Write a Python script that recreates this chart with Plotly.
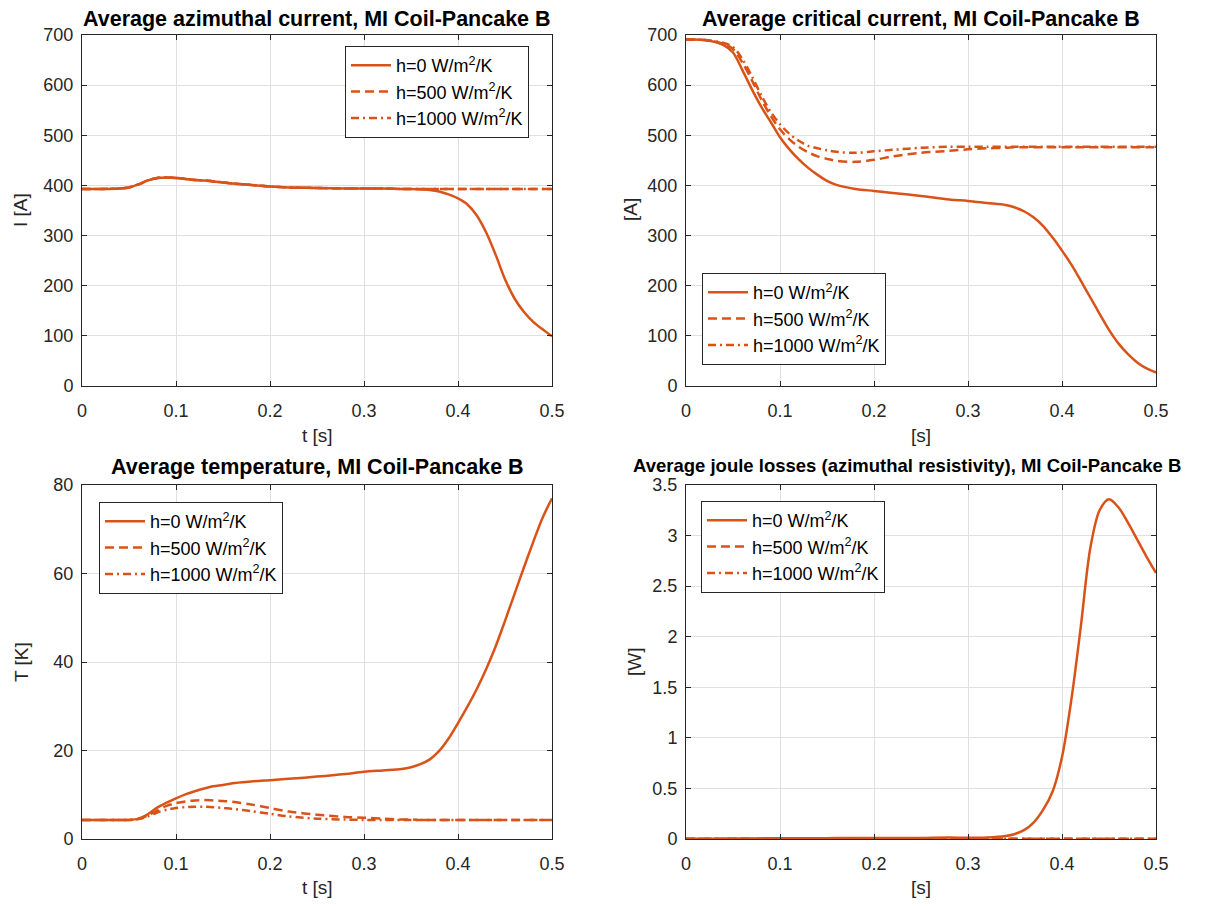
import plotly.graph_objects as go

# ---------------- data ----------------
t = [0, 0.02, 0.04, 0.05, 0.06, 0.07, 0.08, 0.09, 0.10, 0.11, 0.12, 0.13, 0.14, 0.15,
     0.16, 0.18, 0.20, 0.22, 0.25, 0.28, 0.30, 0.32, 0.34, 0.35, 0.36, 0.37, 0.38, 0.39,
     0.40, 0.41, 0.42, 0.43, 0.44, 0.45, 0.46, 0.47, 0.48, 0.49, 0.50]

series_names = ["h=0 W/m<sup>2</sup>/K", "h=500 W/m<sup>2</sup>/K", "h=1000 W/m<sup>2</sup>/K"]

# Average azimuthal current [A]
I_h0 = [393, 393, 394, 396, 402, 410, 415, 416, 415, 413, 411, 410, 408, 406,
        404, 401, 398, 396, 395, 394, 394, 394, 393, 393, 392, 391, 388, 382,
        374, 362, 340, 306, 262, 213, 175, 148, 128, 113, 99]
I_h500 = [393, 393, 394, 396, 402, 410, 415, 416, 415, 413, 411, 410, 408, 406,
          404, 401, 398, 396, 395, 394, 394, 394, 393, 393, 393, 393, 393, 393,
          393, 393, 393, 393, 393, 393, 393, 393, 393, 393, 393]
I_h1000 = [393, 393, 394, 396, 402, 410, 415, 416, 415, 413, 411, 410, 408, 406,
           404, 401, 398, 396, 395, 394, 394, 394, 393, 393, 393, 393, 393, 393,
           393, 393, 393, 393, 393, 393, 393, 393, 393, 393, 393]

# Average critical current [A]
Ic_h0 = [691, 690, 680, 665, 630, 592, 557, 527, 496, 472, 452, 435, 421, 409,
         401, 393, 389, 385, 379, 372, 369, 365, 361, 356, 348, 336, 319, 296,
         270, 242, 210, 177, 144, 112, 85, 64, 47, 35, 27]
Ic_h500 = [691, 690, 682, 672, 645, 610, 572, 539, 512, 492, 477, 466, 458, 453,
           449, 447, 451, 458, 465, 469, 472, 474, 475, 476, 476, 476, 476, 476,
           476, 476, 476, 476, 476, 476, 476, 476, 476, 476, 476]
Ic_h1000 = [691, 690, 684, 676, 652, 618, 580, 547, 522, 503, 489, 479, 474, 470,
            467, 465, 468, 471, 475, 477, 477, 477, 477, 477, 477, 477, 477, 477,
            477, 477, 477, 477, 477, 477, 477, 477, 477, 477, 477]

# Average temperature [K]
T_h0 = [4.3, 4.3, 4.3, 4.3, 4.6, 5.6, 7.1, 8.2, 9.2, 10.1, 10.8, 11.4, 11.9, 12.2,
        12.6, 13.0, 13.3, 13.6, 14.1, 14.7, 15.2, 15.5, 15.8, 16.2, 16.9, 18.0, 19.9, 22.7,
        26.2, 29.9, 33.9, 38.4, 43.5, 49.3, 55.3, 61.3, 67.1, 72.6, 77.0]
T_h500 = [4.3, 4.3, 4.3, 4.3, 4.5, 5.3, 6.4, 7.5, 8.1, 8.5, 8.7, 8.8, 8.7, 8.6,
          8.4, 7.8, 7.0, 6.2, 5.5, 5.0, 4.8, 4.6, 4.4, 4.4, 4.3, 4.3, 4.3, 4.3,
          4.3, 4.3, 4.3, 4.3, 4.3, 4.3, 4.3, 4.3, 4.3, 4.3, 4.3]
T_h1000 = [4.3, 4.3, 4.3, 4.3, 4.5, 5.1, 6.0, 6.6, 7.0, 7.2, 7.3, 7.3, 7.2, 7.0,
           6.8, 6.3, 5.7, 5.1, 4.6, 4.4, 4.3, 4.3, 4.3, 4.3, 4.3, 4.3, 4.3, 4.3,
           4.3, 4.3, 4.3, 4.3, 4.3, 4.3, 4.3, 4.3, 4.3, 4.3, 4.3]

# Average joule losses [W]
Q_h0 = [0.003, 0.003, 0.003, 0.004, 0.005, 0.006, 0.006, 0.007, 0.007, 0.007, 0.008, 0.008, 0.008, 0.008,
        0.009, 0.009, 0.010, 0.010, 0.011, 0.015, 0.012, 0.015, 0.030, 0.050, 0.090, 0.165, 0.290, 0.470,
        0.810, 1.380, 2.100, 2.870, 3.250, 3.360, 3.280, 3.130, 2.960, 2.790, 2.630]
Q_h500 = [0.002] * len(t)
Q_h1000 = [0.002] * len(t)

y_ticks = [
    [0, 100, 200, 300, 400, 500, 600, 700],
    [0, 100, 200, 300, 400, 500, 600, 700],
    [0, 20, 40, 60, 80],
    [0, 0.5, 1, 1.5, 2, 2.5, 3, 3.5],
]
y_tick_text = [
    ["0", "100", "200", "300", "400", "500", "600", "700"],
    ["0", "100", "200", "300", "400", "500", "600", "700"],
    ["0", "20", "40", "60", "80"],
    ["0", "0.5", "1", "1.5", "2", "2.5", "3", "3.5"],
]
x_ticks = [0, 0.1, 0.2, 0.3, 0.4, 0.5]
x_tick_text = ["0", "0.1", "0.2", "0.3", "0.4", "0.5"]

titles = ["Average azimuthal current, MI Coil-Pancake B",
          "Average critical current, MI Coil-Pancake B",
          "Average temperature, MI Coil-Pancake B",
          "Average joule losses (azimuthal resistivity), MI Coil-Pancake B"]
x_titles = ["t [s]", "[s]", "t [s]", "[s]"]
y_titles = ["I [A]", "[A]", "T [K]", "[W]"]
y_ranges = [[0, 700], [0, 700], [0, 80], [0, 3.5]]

panels = [
    [I_h0, I_h500, I_h1000],
    [Ic_h0, Ic_h500, Ic_h1000],
    [T_h0, T_h500, T_h1000],
    [Q_h0, Q_h500, Q_h1000],
]

# ---------------- style / layout ----------------
OFF = 8                      # page body margin of the html page
W, H = 1206 - 2 * OFF, 906 - 2 * OFF
COLOR = "#D95319"
AXC = "#262626"
FONT = "Arial, Liberation Sans, sans-serif"
dashes = ["solid", "9px,5px", "8px,4px,2px,4px"]


def px(x):
    return (x - OFF) / W


def py(y):
    return 1 - (y - OFF) / H


# plot areas in screen pixel coords: (x0, x1, ytop, ybottom)
areas = [(82, 552, 35, 386), (686, 1156, 35, 386),
         (82, 552, 485, 839), (686, 1156, 485, 839)]
legend_pos = [(345, 46), (702, 273), (99, 502), (701, 501)]
title_pos = [(317, 19, 21.5), (921, 19, 21.5), (317, 467, 21.5), (907, 465, 18.5)]
xtitle_pos = [(317, 435), (921, 435), (317, 887), (921, 887)]
ytitle_pos = [(21, 210), (631, 210), (21, 662), (634, 662)]

fig = go.Figure()
layout = dict(width=W, height=H, margin=dict(l=0, r=0, t=0, b=0, autoexpand=False),
              paper_bgcolor="white", plot_bgcolor="white",
              font=dict(family=FONT, color=AXC), showlegend=True)

annotations = []
for k in range(4):
    ax_suffix = "" if k == 0 else str(k + 1)
    leg_name = "legend" if k == 0 else "legend" + str(k + 1)
    for j in range(3):
        fig.add_trace(go.Scatter(
            x=t, y=panels[k][j], mode="lines", name=series_names[j],
            line=dict(color=COLOR, width=2.5, dash=dashes[j], shape="spline", smoothing=0.9),
            xaxis="x" + ax_suffix, yaxis="y" + ax_suffix, legend=leg_name,
            legendgroup=f"g{k}_{j}",
        ))
    x0, x1, yt, yb = areas[k]
    common = dict(showline=True, linecolor=AXC, linewidth=1, mirror="ticks",
                  ticks="inside", ticklen=5, tickcolor=AXC, automargin=False,
                  showgrid=True, gridcolor="#e0e0e0", gridwidth=1, zeroline=False,
                  tickfont=dict(family=FONT, size=18, color=AXC))
    layout["xaxis" + ax_suffix] = dict(
        common, domain=[px(x0), px(x1)], anchor="y" + ax_suffix,
        range=[0, 0.5], tickvals=x_ticks, ticktext=x_tick_text, ticklabelstandoff=8,
    )
    layout["yaxis" + ax_suffix] = dict(
        common, domain=[py(yb), py(yt)], anchor="x" + ax_suffix,
        range=y_ranges[k], tickvals=y_ticks[k], ticktext=y_tick_text[k],
        ticklabelstandoff=4,
    )
    lx, ly = legend_pos[k]
    layout[leg_name] = dict(
        x=px(lx), y=py(ly), xanchor="left", yanchor="top",
        bgcolor="white", bordercolor=AXC, borderwidth=1,
        font=dict(family=FONT, size=18, color="black"),
        tracegroupgap=9, traceorder="normal", itemwidth=40,
    )
    tx, ty, ts = title_pos[k]
    annotations.append(dict(
        text="<b>" + titles[k] + "</b>", x=px(tx), y=py(ty), xref="paper", yref="paper",
        xanchor="center", yanchor="middle", showarrow=False,
        font=dict(family=FONT, size=ts, color="black"),
    ))
    ax_, ay_ = xtitle_pos[k]
    annotations.append(dict(
        text=x_titles[k], x=px(ax_), y=py(ay_), xref="paper", yref="paper",
        xanchor="center", yanchor="middle", showarrow=False,
        font=dict(family=FONT, size=19, color=AXC),
    ))
    bx_, by_ = ytitle_pos[k]
    annotations.append(dict(
        text=y_titles[k], x=px(bx_), y=py(by_), xref="paper", yref="paper",
        xanchor="center", yanchor="middle", showarrow=False, textangle=-90,
        font=dict(family=FONT, size=19, color=AXC),
    ))

layout["annotations"] = annotations
fig.update_layout(**layout)
fig.write_html("out.html")
